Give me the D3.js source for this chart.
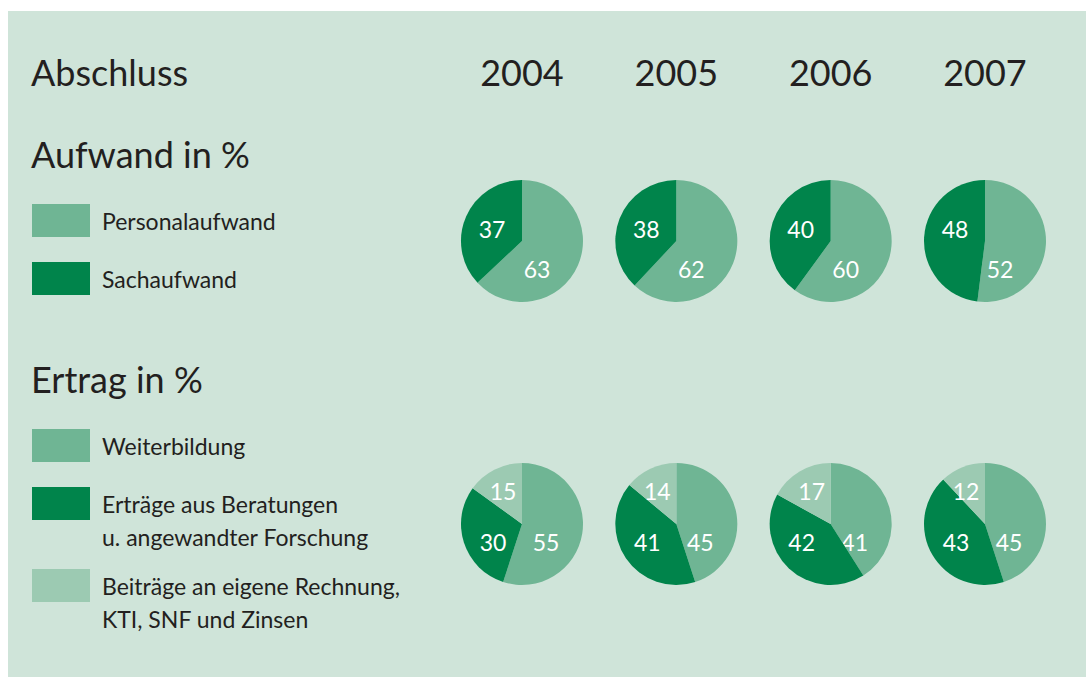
<!DOCTYPE html>
<html>
<head>
<meta charset="utf-8">
<script src="https://cdn.jsdelivr.net/npm/d3@7"></script>
<style>
  body { margin: 0; background: #fff; }
  text { font-family: Lato, "Open Sans", sans-serif; }
</style>
</head>
<body>
<div id="vis"></div>
<script>
// data
const years = ["2004", "2005", "2006", "2007"]

const aufwandSeries = ["Personalaufwand", "Sachaufwand"]
const personalaufwand = [63, 62, 60, 52]
const sachaufwand = [37, 38, 40, 48]

const ertragSeries = ["Weiterbildung", "Erträge aus Beratungen|u. angewandter Forschung", "Beiträge an eigene Rechnung,|KTI, SNF und Zinsen"]
const weiterbildung = [55, 45, 41, 45]
const beratungen = [30, 41, 42, 43]
const beitraege = [15, 14, 17, 12]

//static sizes
const width = 1086
const height = 677
const radius = 61

const colLight = "#6fb594"
const colDark = "#00844b"
const colLightest = "#9ccab2"
const textCol = "#231f20"

const svg = d3.select("#vis")
    .append("svg")
    .attr("width", width)
    .attr("height", height)

//green panel
svg.append("rect")
    .attr("x", 8)
    .attr("y", 11)
    .attr("width", width - 8)
    .attr("height", height - 11)
    .attr("fill", "#cfe4d9")

//x positions of the pie columns
const x = d3.scalePoint()
    .domain(years)
    .range([522, 985])

svg.append("text")
    .attr("x", 31).attr("y", 86)
    .attr("font-size", 36).attr("fill", textCol)
    .text("Abschluss")

svg.selectAll(".year")
    .data(years)
    .enter()
    .append("text")
    .attr("class", "year")
    .attr("x", d => x(d))
    .attr("y", 86)
    .attr("text-anchor", "middle")
    .attr("font-size", 36)
    .attr("fill", textCol)
    .text(d => d)

svg.append("text")
    .attr("x", 31).attr("y", 168)
    .attr("font-size", 36).attr("fill", textCol)
    .text("Aufwand in %")

svg.append("text")
    .attr("x", 31).attr("y", 393)
    .attr("font-size", 36).attr("fill", textCol)
    .text("Ertrag in %")

//legend helper
function legend(names, colors, tops) {
    const g = svg.append("g")
    names.forEach((name, i) => {
        g.append("rect")
            .attr("x", 32).attr("y", tops[i])
            .attr("width", 58).attr("height", 33)
            .attr("fill", colors[i])
        const t = g.append("text")
            .attr("x", 102).attr("y", tops[i] + 26)
            .attr("font-size", 23).attr("fill", textCol)
        name.split("|").forEach((line, j) => {
            t.append("tspan")
                .attr("x", 102)
                .attr("dy", j === 0 ? 0 : 33)
                .text(line)
        })
    })
}

legend(aufwandSeries, [colLight, colDark], [204, 262])
legend(ertragSeries, [colLight, colDark, colLightest], [429, 487, 569])

const pie = d3.pie().sort(null).value(d => d)
const arc = d3.arc().innerRadius(0).outerRadius(radius)

//draw one row of pies; labelPos gives the label offset for each series
function pieRow(seriesValues, colors, cy, labelPos) {
    years.forEach((year, i) => {
        const values = seriesValues.map(s => s[i])
        const g = svg.append("g")
            .attr("transform", `translate(${x(year)}, ${cy})`)

        const slices = g.selectAll(".arc")
            .data(pie(values))
            .enter()
            .append("g")
            .attr("class", "arc")

        slices.append("path")
            .attr("d", arc)
            .attr("fill", (d, k) => colors[k])

        slices.append("text")
            .attr("x", (d, k) => labelPos[k][0])
            .attr("y", (d, k) => labelPos[k][1])
            .attr("text-anchor", "middle")
            .attr("dominant-baseline", "central")
            .attr("font-size", 23)
            .attr("fill", "#fff")
            .text(d => d.data)
    })
}

pieRow([personalaufwand, sachaufwand], [colLight, colDark], 241,
    [[15, 28], [-30, -12]])
pieRow([weiterbildung, beratungen, beitraege], [colLight, colDark, colLightest], 524,
    [[24, 18], [-29, 18], [-19, -33]])
</script>
</body>
</html>
